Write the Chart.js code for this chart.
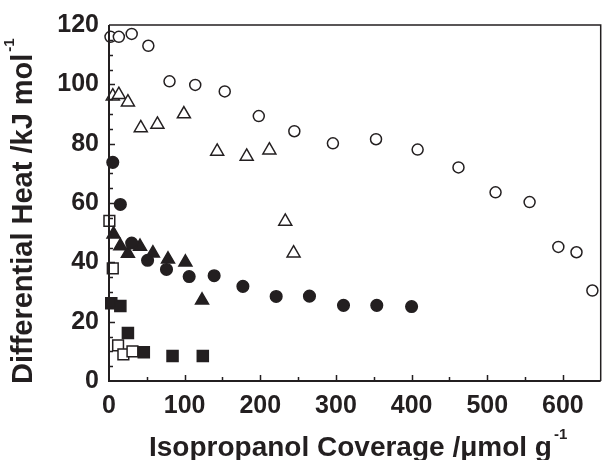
<!DOCTYPE html>
<html>
<head>
<meta charset="utf-8">
<title>Differential heat vs isopropanol coverage</title>
<script src="https://cdn.jsdelivr.net/npm/chart.js@4.4.1/dist/chart.umd.min.js"></script>
<style>
  html, body { margin: 0; padding: 0; background: #fff; }
  #wrap { width: 610px; height: 460px; position: relative; }
</style>
</head>
<body>
<div id="wrap"><canvas id="heat" width="610" height="460"></canvas></div>
<script>
// Coverage (umol/g) and differential heat (kJ/mol) per sample series
const openCircleX = [2, 13, 30, 52, 80, 114, 153, 198, 245, 296, 353, 408, 462, 511, 556, 594, 618, 639];
const openCircleY = [116, 116, 117, 113, 101, 99.8, 97.6, 89.3, 84.2, 80.1, 81.5, 78, 72, 63.6, 60.3, 45.2, 43.4, 30.5];

const openTriX = [5, 13, 25, 42, 64, 99, 143, 182, 212, 233, 244];
const openTriY = [96, 96.5, 94, 85.3, 86.5, 90, 77.4, 75.7, 77.8, 53.8, 43.1];

const filledCircleX = [5, 15, 30, 51, 76, 106, 139, 177, 221, 265, 310, 354, 400];
const filledCircleY = [73.7, 59.5, 46.5, 40.7, 37.6, 35.2, 35.5, 31.9, 28.5, 28.6, 25.5, 25.5, 25.1];

const filledTriX = [6, 15, 25, 41, 58, 78, 101, 123];
const filledTriY = [49.5, 45.5, 43, 45.3, 43.1, 41, 40, 27.2];

const openSquareX = [0.5, 5, 12, 19, 31];
const openSquareY = [54, 38, 12, 9, 10];

const filledSquareX = [3, 15, 25, 46, 84, 124];
const filledSquareY = [26.2, 25.3, 16.2, 9.7, 8.4, 8.4];

const xTickLabels = [0, 100, 200, 300, 400, 500, 600];
const yTickLabels = [0, 20, 40, 60, 80, 100, 120];

const INK = '#231f20';
const FONT = "'Liberation Sans', Arial, sans-serif";

function pts(xs, ys) {
    return xs.map((x, i) => ({ x: x, y: ys[i] }));
}

function series(label, xs, ys, style, radius, filled) {
    return {
        label: label,
        data: pts(xs, ys),
        pointStyle: style,
        pointRadius: radius,
        pointHoverRadius: radius,
        pointBorderWidth: 1.5,
        pointBorderColor: INK,
        pointBackgroundColor: filled ? INK : '#fff',
        showLine: false,
        clip: false
    };
}

// inward tick marks, frame, and the two axis titles
const axisDecor = {
    id: 'axisDecor',
    afterDraw(chart) {
        const ctx = chart.ctx;
        const { left, right, top, bottom } = chart.chartArea;
        const xs = chart.scales.x;
        const ys = chart.scales.y;
        ctx.save();
        ctx.strokeStyle = INK;

        // frame
        ctx.lineWidth = 1.5;
        ctx.beginPath();
        ctx.moveTo(left, top);
        ctx.lineTo(right, top);
        ctx.lineTo(right, bottom);
        ctx.stroke();

        ctx.lineWidth = 2;
        ctx.beginPath();
        ctx.moveTo(left, top);
        ctx.lineTo(left, bottom);
        ctx.lineTo(right, bottom);
        ctx.stroke();

        ctx.lineWidth = 1.5;
        ctx.beginPath();
        for (let v = 50; v < xs.max; v += 50) {
            const px = Math.round(xs.getPixelForValue(v)) + 0.5;
            const len = v % 100 === 0 ? 6 : 4;
            ctx.moveTo(px, bottom);
            ctx.lineTo(px, bottom - len);
        }
        for (let v = 5; v < ys.max; v += 5) {
            const py = Math.round(ys.getPixelForValue(v)) + 0.5;
            const len = v % 20 === 0 ? 6 : 4;
            ctx.moveTo(left, py);
            ctx.lineTo(left + len, py);
        }
        ctx.stroke();

        ctx.fillStyle = INK;
        ctx.textBaseline = 'alphabetic';

        // x title
        ctx.font = 'bold 28px ' + FONT;
        ctx.textAlign = 'left';
        const xt = 'Isopropanol Coverage /\u03bcmol g';
        const xtX = 149, xtY = 456;
        ctx.fillText(xt, xtX, xtY);
        const xw = ctx.measureText(xt).width;
        ctx.font = 'bold 15px ' + FONT;
        ctx.fillText('-1', xtX + xw + 2, xtY - 17);

        // y title, rotated
        ctx.translate(32, 384);
        ctx.rotate(-Math.PI / 2);
        ctx.font = 'bold 29px ' + FONT;
        const yt = 'Differential Heat /kJ mol';
        ctx.fillText(yt, 0, 0);
        const yw = ctx.measureText(yt).width;
        ctx.font = 'bold 15px ' + FONT;
        ctx.fillText('-1', yw + 2, -18);

        ctx.restore();
    }
};

new Chart(document.getElementById('heat'), {
    type: 'scatter',
    data: {
        datasets: [
            series('open circles', openCircleX, openCircleY, 'circle', 5.5, false),
            series('open triangles', openTriX, openTriY, 'triangle', 7.5, false),
            series('filled circles', filledCircleX, filledCircleY, 'circle', 5.8, true),
            series('filled triangles', filledTriX, filledTriY, 'triangle', 7.5, true),
            series('open squares', openSquareX, openSquareY, 'rect', 7.6, false),
            series('filled squares', filledSquareX, filledSquareY, 'rect', 7.8, true)
        ]
    },
    options: {
        responsive: false,
        animation: false,
        devicePixelRatio: 1,
        layout: { padding: { top: 23, right: 1, left: 0, bottom: 0 } },
        plugins: {
            legend: { display: false },
            tooltip: { enabled: false }
        },
        scales: {
            x: {
                type: 'linear',
                min: 0,
                max: 650,
                afterBuildTicks: s => { s.ticks = xTickLabels.map(v => ({ value: v })); },
                afterFit: s => { s.height = 79; },
                grid: { display: false, drawTicks: false },
                border: { display: false },
                ticks: {
                    color: INK,
                    padding: 10,
                    maxRotation: 0,
                    font: { family: FONT, size: 25, weight: 'bold' }
                }
            },
            y: {
                type: 'linear',
                min: 0,
                max: 120,
                afterBuildTicks: s => { s.ticks = yTickLabels.map(v => ({ value: v })); },
                afterFit: s => { s.width = 109; },
                grid: { display: false, drawTicks: false },
                border: { display: false },
                ticks: {
                    color: INK,
                    padding: 10,
                    font: { family: FONT, size: 25, weight: 'bold' }
                }
            }
        }
    },
    plugins: [axisDecor]
});
</script>
</body>
</html>
